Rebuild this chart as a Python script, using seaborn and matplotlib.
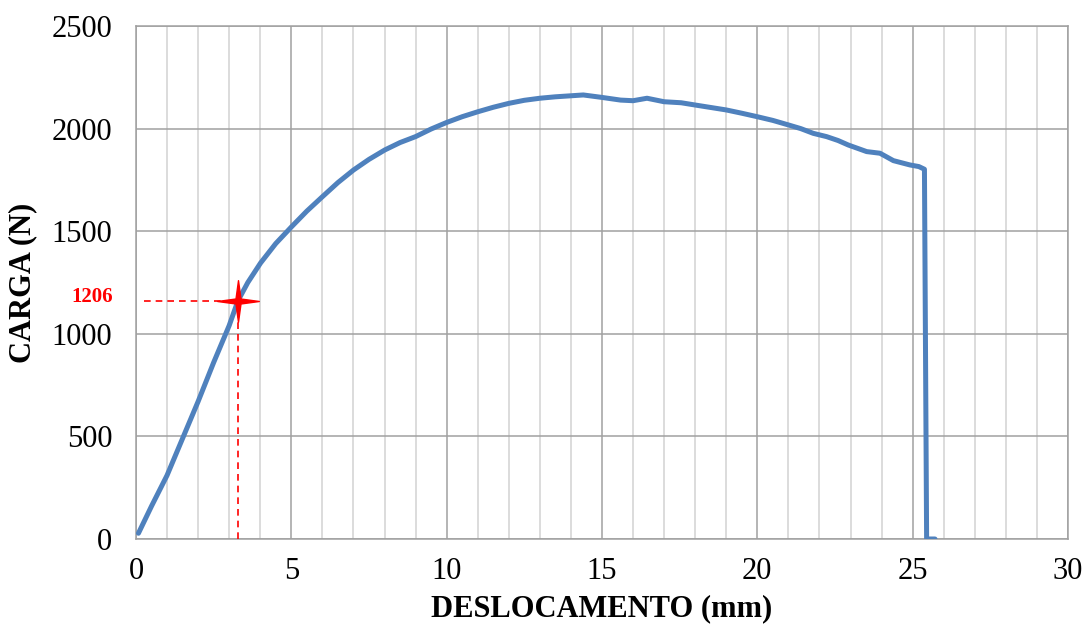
import numpy as np
import pandas as pd
import matplotlib
matplotlib.use("Agg")
import matplotlib.pyplot as plt
from matplotlib.path import Path
import seaborn as sns

# ---- data ----
deslocamento = [0.08, 0.5, 1.0, 1.5, 2.0, 2.5, 3.0, 3.28, 3.6, 4.01, 4.5, 5.01, 5.5, 6.0,
                6.5, 7.0, 7.5, 8.01, 8.5, 9.0, 9.5, 10.0, 10.5, 11.0, 11.5, 12.0, 12.5, 13.0,
                13.5, 14.0, 14.4, 15.0, 15.6, 16.0, 16.45, 17.0, 17.55, 18.0, 19.0, 19.5,
                20.0, 20.5, 21.0, 21.4, 21.8, 22.23, 22.6, 22.93, 23.52, 23.95, 24.38,
                24.91, 25.2, 25.38, 25.45, 25.72]
carga = [28, 160, 310, 490, 670, 860, 1040, 1160, 1250, 1345, 1440, 1522, 1598, 1668,
         1737, 1798, 1850, 1896, 1932, 1961, 1998, 2030, 2058, 2082, 2104, 2123, 2138, 2148,
         2155, 2160, 2164, 2152, 2139, 2136, 2148, 2131, 2126, 2115, 2091, 2075,
         2058, 2040, 2018, 2000, 1977, 1961, 1942, 1920, 1888, 1880, 1844,
         1823, 1815, 1802, 0, 0]

ponto_x = [3.28]
ponto_y = [1160]
ponto_rotulo = "1206"

x_ticks = [0, 5, 10, 15, 20, 25, 30]
y_ticks = [0, 500, 1000, 1500, 2000, 2500]
x_label = "DESLOCAMENTO (mm)"
y_label = "CARGA (N)"

df = pd.DataFrame({"x": deslocamento, "y": carga})

sns.set_theme(style="white")
plt.rcParams["font.family"] = ["Liberation Serif", "DejaVu Serif"]
plt.rcParams["text.color"] = "black"
plt.rcParams["axes.labelcolor"] = "black"

fig = plt.figure(figsize=(10.86, 6.33), dpi=100)
ax = fig.add_axes([0.1252, 0.1485, 0.8582, 0.8104])

# grid
ax.set_xlim(0, 30)
ax.set_ylim(0, 2500)
ax.set_xticks(x_ticks)
ax.set_yticks(y_ticks)
ax.set_xticks(np.arange(0, 31, 1), minor=True)
ax.grid(which="minor", axis="x", color="#d2d2d2", linewidth=1.1)
ax.grid(which="major", axis="x", color="#a0a0a0", linewidth=1.1)
ax.grid(which="major", axis="y", color="#a0a0a0", linewidth=1.1)
ax.set_axisbelow(True)

sns.lineplot(data=df, x="x", y="y", sort=False, ax=ax, color="#4f81bd",
             linewidth=3.6, estimator=None, zorder=3)
ax.lines[-1].set_solid_joinstyle("round")
ax.lines[-1].set_solid_capstyle("round")

# reference point lines
ax.plot([0.25, ponto_x[0]], [ponto_y[0], ponto_y[0]], color="red", linestyle=(0, (4, 3)),
        linewidth=1.2, zorder=4)
ax.plot([ponto_x[0], ponto_x[0]], [0, ponto_y[0]], color="red", linestyle=(0, (4, 3)),
        linewidth=1.2, zorder=4)

star = Path([(0, 1), (0.12, 0.12), (1, 0), (0.12, -0.12), (0, -1), (-0.12, -0.12),
             (-1, 0), (-0.12, 0.12), (0, 1)], closed=True)
ax.plot(ponto_x, ponto_y, marker=star, markersize=30, color="red", linestyle="none",
        zorder=5)
ax.text(-0.75, ponto_y[0] + 20, ponto_rotulo, color="red", fontsize=15, fontweight="bold",
        ha="right", va="center", transform=ax.transData, clip_on=False)

for s in ax.spines.values():
    s.set_color("#a0a0a0")
    s.set_linewidth(1.1)

ax.tick_params(axis="both", which="major", labelsize=22, labelcolor="black",
               direction="out", length=7, width=1.1, color="#a0a0a0")
ax.tick_params(axis="x", which="minor", length=0)
ax.tick_params(axis="x", pad=6)
ax.tick_params(axis="y", pad=10)

ax.set_xlabel(x_label, fontsize=22, fontweight="bold", labelpad=6, color="black")
ax.set_ylabel(y_label, fontsize=22, fontweight="bold", labelpad=10, color="black")

fig.savefig("out.png", dpi=100)
